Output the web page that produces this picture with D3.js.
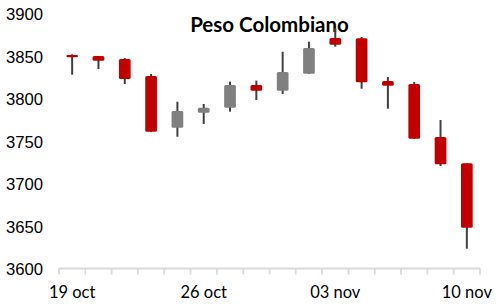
<!DOCTYPE html>
<html>
<head>
<meta charset="utf-8">
<script src="https://cdn.jsdelivr.net/npm/d3@7"></script>
<style>
  body { margin: 0; background: #fff; }
  svg { display: block; font-family: Lato, "Liberation Sans", sans-serif; }
</style>
</head>
<body>
<div id="chart"></div>
<script>
// daily candles, weekdays only (2 nov holiday)
const dates = ['19 oct', '20 oct', '21 oct', '22 oct', '23 oct',
  '26 oct', '27 oct', '28 oct', '29 oct', '30 oct',
  '03 nov', '04 nov', '05 nov', '06 nov', '09 nov', '10 nov'];
const open  = [3851.2, 3850.0, 3846.5, 3826.5, 3765.6, 3783.3, 3789.2, 3815.9, 3809.2, 3829.2, 3871.2, 3870.8, 3820.6, 3817.0, 3754.7, 3723.8];
const high  = [3852.0, 3850.0, 3847.6, 3828.8, 3796.2, 3793.5, 3819.8, 3821.0, 3855.0, 3866.8, 3882.6, 3872.4, 3825.3, 3819.4, 3774.7, 3724.0];
const low   = [3828.0, 3834.7, 3817.0, 3760.5, 3755.0, 3770.0, 3784.5, 3798.2, 3805.3, 3829.0, 3861.0, 3811.5, 3788.0, 3752.5, 3720.6, 3623.3];
const close = [3848.5, 3844.5, 3823.0, 3761.0, 3785.3, 3789.2, 3815.9, 3809.2, 3831.2, 3859.4, 3863.3, 3819.0, 3815.0, 3752.7, 3722.6, 3648.0];
const yTicks = [3600, 3650, 3700, 3750, 3800, 3850, 3900];
const xLabelDates = ['19 oct', '26 oct', '03 nov', '10 nov'];
const title = 'Peso Colombiano';

const w = 503, h = 307;
const margin = { top: 13.5, right: 23, bottom: 38.5, left: 59 };

const svg = d3.select('#chart').append('svg')
  .attr('width', w)
  .attr('height', h);

const candles = dates.map((d, i) => ({
  date: d, o: open[i], h: high[i], l: low[i], c: close[i]
}));

const x = d3.scaleBand()
  .domain(dates)
  .range([margin.left, w - margin.right])
  .paddingInner(0.555)
  .paddingOuter(0.2775);

const y = d3.scaleLinear()
  .domain([3600, 3900])
  .range([h - margin.bottom, margin.top]);

// y labels, no axis line
const yAxis = svg.append('g')
  .attr('transform', 'translate(43,0)')
  .call(d3.axisLeft(y).tickValues(yTicks).tickFormat(d3.format('d')).tickSize(0).tickPadding(0));
yAxis.select('.domain').remove();
yAxis.selectAll('text')
  .attr('font-size', '16.7px')
  .attr('fill', '#000')
  .attr('dy', '0.36em');

// category axis with ticks at band edges
const step = x.step();
const edges = d3.range(dates.length + 1).map(i => margin.left + i * step);
const axisY = y(3600);
svg.append('line')
  .attr('x1', margin.left).attr('x2', w - margin.right)
  .attr('y1', axisY).attr('y2', axisY)
  .attr('stroke', '#d9d9d9').attr('stroke-width', 1.8);
svg.selectAll('.xtick')
  .data(edges)
  .enter().append('line')
  .attr('class', 'xtick')
  .attr('x1', d => d).attr('x2', d => d)
  .attr('y1', axisY).attr('y2', axisY + 6)
  .attr('stroke', '#d9d9d9').attr('stroke-width', 1.8);

svg.selectAll('.xlabel')
  .data(xLabelDates)
  .enter().append('text')
  .attr('class', 'xlabel')
  .attr('x', d => x(d) + x.bandwidth() / 2)
  .attr('y', 298)
  .attr('text-anchor', 'middle')
  .attr('font-size', '16.5px')
  .attr('fill', '#000')
  .text(d => d);

// title goes under the candles (wick of 03 nov crosses it)
svg.append('text')
  .attr('x', 269.5)
  .attr('y', 31.7)
  .attr('text-anchor', 'middle')
  .attr('font-size', '20.5px')
  .attr('font-weight', 'bold')
  .attr('fill', '#000')
  .text(title);

const cx = d => x(d.date) + x.bandwidth() / 2;

svg.selectAll('.wick')
  .data(candles)
  .enter().append('line')
  .attr('class', 'wick')
  .attr('x1', cx).attr('x2', cx)
  .attr('y1', d => y(d.h))
  .attr('y2', d => y(d.l))
  .attr('stroke', '#404040')
  .attr('stroke-width', 2);

svg.selectAll('.body')
  .data(candles)
  .enter().append('rect')
  .attr('class', 'body')
  .attr('x', d => x(d.date))
  .attr('width', x.bandwidth())
  .attr('y', d => y(Math.max(d.o, d.c)))
  .attr('height', d => Math.max(1, Math.abs(y(d.o) - y(d.c))))
  .attr('rx', 1.5)
  .attr('fill', d => d.c < d.o ? '#c00000' : '#808080');
</script>
</body>
</html>
